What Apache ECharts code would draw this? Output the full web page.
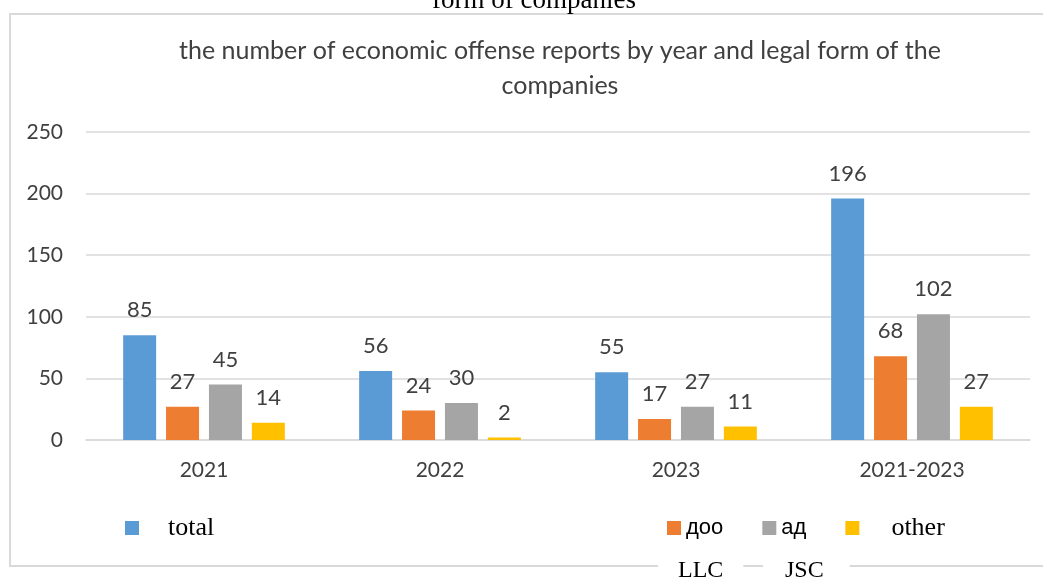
<!DOCTYPE html>
<html>
<head>
<meta charset="utf-8">
<title>economic offense reports</title>
<script src="https://cdn.jsdelivr.net/npm/echarts@6/dist/echarts.min.js"></script>
<style>
html,body{margin:0;padding:0;background:#fff;}
#chart{width:1043px;height:581px;}
</style>
</head>
<body>
<div id="chart"></div>
<script>
var years = ['2021', '2022', '2023', '2021-2023'];
var total = [85, 56, 55, 196];
var doo = [27, 24, 17, 68];
var ad = [45, 30, 27, 102];
var other = [14, 2, 11, 27];
var yTicks = [0, 50, 100, 150, 200, 250];

var colors = ['#5B9BD5', '#ED7D31', '#A5A5A5', '#FFC000'];
var sans = 'Lato';
var serif = 'Liberation Serif';

var chart = echarts.init(document.getElementById('chart'));

function makeSeries(name, data, color){
	return {
		name: name,
		type: 'bar',
		data: data,
		barWidth: 33,
		barGap: '30%',
		itemStyle: {color: color},
		label: {
			show: true,
			position: 'top',
			distance: 14,
			color: '#404040',
			fontFamily: sans,
			fontSize: 22
		}
	};
}

var option = {
	animation: false,
	color: colors,
	title: {
		text: 'the number of economic offense reports by year and legal form of the\ncompanies',
		left: 555,
		textAlign: 'center',
		top: 28,
		textStyle: {
			fontFamily: sans,
			fontSize: 25,
			fontWeight: 'normal',
			color: '#404040',
			lineHeight: 35
		}
	},
	legend: [{
		data: ['total'],
		left: 120,
		top: 510,
		itemWidth: 14,
		itemHeight: 14,
		icon: 'rect',
		textStyle: {fontFamily: serif, fontSize: 26, color: '#000', padding: [0, 0, 0, 24]}
	}, {
		data: ['доо', 'ад', 'other'],
		left: 662,
		top: 510,
		itemWidth: 14,
		itemHeight: 14,
		itemGap: 39,
		icon: 'rect',
		formatter: function(name){
			if (name == 'other') return '{r|' + name + '}';
			return '{s|' + name + '}';
		},
		textStyle: {
			rich: {
				s: {fontFamily: 'Liberation Sans', fontSize: 22, color: '#000'},
				r: {fontFamily: serif, fontSize: 26, color: '#000', padding: [0, 0, 0, 27]}
			}
		}
	}],
	grid: {left: 86, right: 13, top: 132, bottom: 141},
	xAxis: {
		type: 'category',
		data: years,
		axisTick: {show: false},
		axisLine: {lineStyle: {color: '#d9d9d9', width: 1.5}},
		axisLabel: {fontFamily: sans, fontSize: 21, color: '#404040', margin: 20}
	},
	yAxis: {
		type: 'value',
		min: yTicks[0],
		max: yTicks[yTicks.length - 1],
		interval: 50,
		axisLine: {show: false},
		axisTick: {show: false},
		splitLine: {lineStyle: {color: '#d9d9d9', width: 1.5}},
		axisLabel: {fontFamily: sans, fontSize: 21, color: '#404040', margin: 23}
	},
	graphic: [{
		type: 'rect',
		shape: {x: 10, y: 14, width: 1045, height: 552},
		style: {fill: 'none', stroke: '#d9d9d9', lineWidth: 2},
		z: -1
	}, {
		type: 'text',
		x: 534,
		y: -13,
		style: {text: 'form of companies', font: '27px "Liberation Serif"', fill: '#000', align: 'center'}
	}, {
		type: 'text',
		left: 658,
		top: 559,
		style: {text: 'LLC', font: '24px "Liberation Serif"', fill: '#000', backgroundColor: '#fff', padding: [0, 20, 0, 20]}
	}, {
		type: 'text',
		left: 763,
		top: 559,
		style: {text: 'JSC', font: '24px "Liberation Serif"', fill: '#000', backgroundColor: '#fff', padding: [0, 26, 0, 22]}
	}],
	series: [
		makeSeries('total', total, colors[0]),
		makeSeries('доо', doo, colors[1]),
		makeSeries('ад', ad, colors[2]),
		makeSeries('other', other, colors[3])
	]
};

chart.setOption(option);
</script>
</body>
</html>
